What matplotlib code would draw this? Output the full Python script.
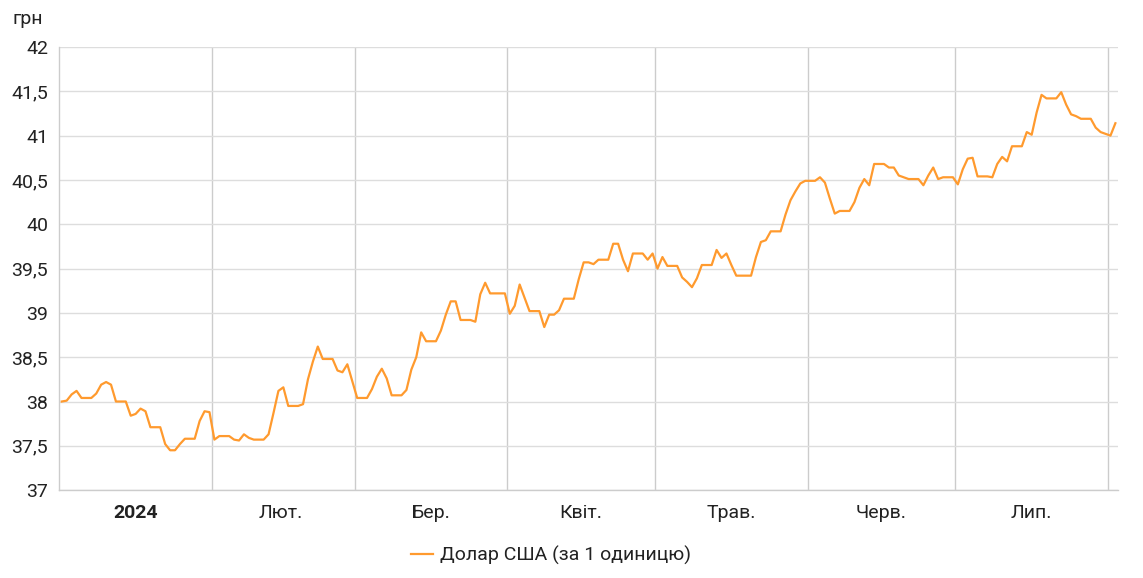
import matplotlib
matplotlib.use("Agg")
import matplotlib.pyplot as plt
import matplotlib.dates as mdates
import numpy as np
import pandas as pd

# --- data (UAH per 1 USD, daily) ---
jan_rates = [38.00, 38.01, 38.08, 38.12, 38.04, 38.04, 38.04, 38.09, 38.19, 38.22,
             38.19, 38.00, 38.00, 38.00, 37.84, 37.86, 37.92, 37.89, 37.71, 37.71,
             37.71, 37.52, 37.45, 37.45, 37.52, 37.58, 37.58, 37.58, 37.78, 37.89,
             37.88]
feb_rates = [37.57, 37.61, 37.61, 37.61, 37.57, 37.56, 37.63, 37.59, 37.57, 37.57,
             37.57, 37.63, 37.87, 38.12, 38.16, 37.95, 37.95, 37.95, 37.97, 38.25,
             38.45, 38.62, 38.48, 38.48, 38.48, 38.35, 38.33, 38.42, 38.23]
mar_rates = [38.04, 38.04, 38.04, 38.14, 38.28, 38.37, 38.26, 38.07, 38.07, 38.07,
             38.13, 38.36, 38.50, 38.78, 38.68, 38.68, 38.68, 38.80, 38.98, 39.13,
             39.13, 38.92, 38.92, 38.92, 38.90, 39.21, 39.34, 39.22, 39.22, 39.22,
             39.22]
apr_rates = [38.99, 39.08, 39.32, 39.17, 39.02, 39.02, 39.02, 38.84, 38.98, 38.98,
             39.03, 39.16, 39.16, 39.16, 39.38, 39.57, 39.57, 39.55, 39.60, 39.60,
             39.60, 39.78, 39.78, 39.60, 39.47, 39.67, 39.67, 39.67, 39.60, 39.67]
may_rates = [39.50, 39.63, 39.53, 39.53, 39.53, 39.40, 39.35, 39.29, 39.39, 39.54,
             39.54, 39.54, 39.71, 39.62, 39.67, 39.54, 39.42, 39.42, 39.42, 39.42,
             39.63, 39.80, 39.82, 39.92, 39.92, 39.92, 40.11, 40.27, 40.37, 40.46,
             40.49]
jun_rates = [40.49, 40.49, 40.53, 40.47, 40.29, 40.12, 40.15, 40.15, 40.15, 40.25,
             40.41, 40.51, 40.44, 40.68, 40.68, 40.68, 40.64, 40.64, 40.55, 40.53,
             40.51, 40.51, 40.51, 40.44, 40.55, 40.64, 40.51, 40.53, 40.53, 40.53]
jul_rates = [40.45, 40.62, 40.74, 40.75, 40.54, 40.54, 40.54, 40.53, 40.68, 40.76,
             40.71, 40.88, 40.88, 40.88, 41.04, 41.01, 41.26, 41.46, 41.42, 41.42,
             41.42, 41.49, 41.35, 41.24, 41.22, 41.19, 41.19, 41.19, 41.09, 41.04,
             41.02]
aug_rates = [41.00, 41.14]

start_date = "2024-01-01"
end_date = "2024-08-03"
month_starts = ["2024-02-01", "2024-03-01", "2024-04-01", "2024-05-01",
                "2024-06-01", "2024-07-01", "2024-08-01"]
month_mids = ["2024-01-16 12:00", "2024-02-15", "2024-03-16 12:00", "2024-04-16",
              "2024-05-16 12:00", "2024-06-16", "2024-07-16 12:00"]
month_labels = ["2024", "Лют.", "Бер.", "Квіт.", "Трав.", "Черв.", "Лип."]
y_ticks = [37, 37.5, 38, 38.5, 39, 39.5, 40, 40.5, 41, 41.5, 42]
series_name = "Долар США (за 1 одиницю)"
unit_label = "грн"

rates = jan_rates + feb_rates + mar_rates + apr_rates + may_rates + jun_rates + jul_rates + aug_rates
dates = pd.date_range(start_date, periods=len(rates), freq="D") + pd.Timedelta(hours=12)

plt.rcParams["font.family"] = ["Roboto", "DejaVu Sans"]
FS = 14

fig = plt.figure(figsize=(11.43, 5.78), dpi=100)
ax = fig.add_axes([0.0519, 0.152, 0.978 - 0.0519, 0.9187 - 0.152])

line_color = "#FF9A2E"
ax.plot(dates, rates, color=line_color, linewidth=1.6, solid_joinstyle="round",
        label=series_name, zorder=3)

ax.set_xlim(pd.Timestamp(start_date), pd.Timestamp(end_date))
ax.set_ylim(37, 42)

# y axis
ax.set_yticks(y_ticks)
ax.set_yticklabels([("%g" % v).replace(".", ",") for v in y_ticks])
ax.tick_params(axis="y", length=0, pad=8, labelsize=FS, labelcolor="#222222")
ax.yaxis.grid(True, color="#DDDDDD", linewidth=1.0)

# x axis: gridlines at month starts, labels at month midpoints
ax.set_xticks([pd.Timestamp(d) for d in month_starts])
ax.set_xticklabels([""] * len(month_starts))
ax.xaxis.grid(True, color="#CCCCCC", linewidth=1.0)
ax.set_xticks([pd.Timestamp(d) for d in month_mids], minor=True)
ax.set_xticklabels(month_labels, minor=True)
ax.tick_params(axis="x", which="both", length=0)
ax.tick_params(axis="x", which="minor", pad=10, labelsize=FS, labelcolor="#222222")
for lbl in ax.get_xticklabels(minor=True):
    if lbl.get_text() == "2024":
        lbl.set_fontweight("bold")
ax.set_axisbelow(True)

for side in ["top", "right"]:
    ax.spines[side].set_visible(False)
ax.spines["left"].set_color("#CCCCCC")
ax.spines["bottom"].set_color("#CCCCCC")
ax.spines["left"].set_linewidth(1.0)
ax.spines["bottom"].set_linewidth(1.0)

fig.text(12 / 1143, 1 - 19 / 578, unit_label, fontsize=FS, color="#222222",
         ha="left", va="center")

leg = fig.legend(loc="center", bbox_to_anchor=(551 / 1143, 1 - 555 / 578),
                 frameon=False, fontsize=FS, handlelength=1.1, handletextpad=0.35)
for t in leg.get_texts():
    t.set_color("#222222")

fig.savefig("out.png", dpi=100)
